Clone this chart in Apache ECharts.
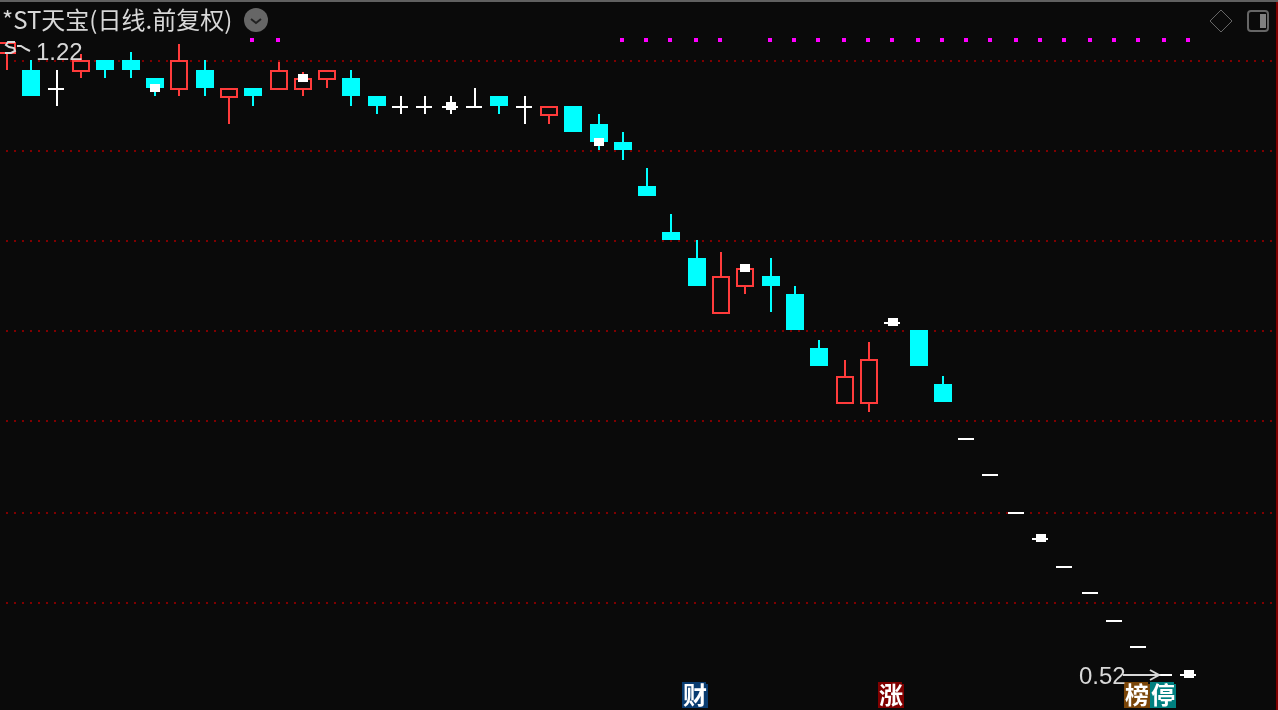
<!DOCTYPE html>
<html>
<head>
<meta charset="utf-8">
<title>*ST天宝 日线</title>
<script src="https://cdn.jsdelivr.net/npm/echarts@6/dist/echarts.min.js"></script>
<style>
  html, body { margin: 0; padding: 0; background: #0a0a0a; }
  #main { width: 1278px; height: 710px; }
</style>
</head>
<body>
<div id="main"></div>
<script>
// 49 trading days, oldest first
var days = ["D01","D02","D03","D04","D05","D06","D07","D08","D09","D10",
            "D11","D12","D13","D14","D15","D16","D17","D18","D19","D20",
            "D21","D22","D23","D24","D25","D26","D27","D28","D29","D30",
            "D31","D32","D33","D34","D35","D36","D37","D38","D39","D40",
            "D41","D42","D43","D44","D45","D46","D47","D48","D49"];

var opens = [1.2036,1.1778,1.1481,1.1747,1.1939,1.1939,1.1652,1.1465,1.1778,1.1342,
             1.1496,1.1465,1.1465,1.1620,1.1652,1.1372,1.1205,1.1205,1.1205,1.1205,
             1.1372,1.1205,1.1069,1.1220,1.0950,1.0687,1.0071,0.9463,0.9137,0.8471,
             0.8785,0.8917,0.8703,0.8091,0.7501,0.7501,0.8368,0.8289,0.7706,0.7154,
             0.6815,0.6474,0.6247,0.6019,0.5811,0.5595,0.5402,0.5201,0.5201];
var closes = [1.2233,1.1372,1.1481,1.1939,1.1778,1.1778,1.1496,1.1939,1.1496,1.1496,
              1.1372,1.1778,1.1652,1.1778,1.1372,1.1220,1.1205,1.1205,1.1205,1.1205,
              1.1220,1.1205,1.1220,1.0832,1.0687,1.0572,0.9935,0.9361,0.8797,0.8917,
              0.9014,0.8797,0.8289,0.7896,0.7790,0.7971,0.8368,0.7896,0.7521,0.7154,
              0.6815,0.6474,0.6247,0.6019,0.5811,0.5595,0.5402,0.5201,0.5201];
var lows = [1.1778,1.1372,1.1220,1.1652,1.1652,1.1652,1.1372,1.1372,1.1372,1.0950,
            1.1220,1.1465,1.1372,1.1496,1.1220,1.1099,1.1099,1.1099,1.1099,1.1205,
            1.1099,1.0950,1.0950,1.0832,1.0572,1.0430,0.9935,0.9361,0.8797,0.8471,
            0.8703,0.8494,0.8289,0.7896,0.7501,0.7420,0.8368,0.7896,0.7521,0.7154,
            0.6815,0.6474,0.6247,0.6019,0.5811,0.5595,0.5402,0.5201,0.5201];
var highs = [1.2233,1.1939,1.1778,1.2036,1.1939,1.2069,1.1652,1.2200,1.1939,1.1496,
             1.1496,1.1907,1.1747,1.1778,1.1778,1.1372,1.1372,1.1372,1.1372,1.1496,
             1.1372,1.1372,1.1220,1.1220,1.1099,1.0830,1.0318,0.9696,0.9361,0.9211,
             0.9014,0.9137,0.8797,0.8179,0.7960,0.8156,0.8368,0.8289,0.7790,0.7154,
             0.6815,0.6474,0.6247,0.6019,0.5811,0.5595,0.5402,0.5201,0.5201];

// white square every sixth day
var blockDays = [6, 12, 18, 24, 30, 36, 42, 48];
var blockPrices = [1.1496, 1.1652, 1.1220, 1.0687, 0.9014, 0.8379, 0.6259, 0.5208];

// magenta signal row along the top
var signalDays = [10,11,25,26,27,28,29,31,32,33,34,35,36,37,38,39,40,41,42,43,44,45,46,47,48];
var signalPrice = 1.2266;

var gridLevels = [1.1923, 1.0558, 0.9349, 0.8278, 0.7331, 0.6474, 0.5733];

var priceMin = 0.49597;
var priceMax = 1.29476;

var RED = '#ff3b3b';
var CYAN = '#00ffff';
var WHITE = '#ffffff';
var BG = '#0a0a0a';

// candle centres are always on an odd pixel in the original
function oddPx(x) {
  return 2 * Math.round((x - 1) / 2) + 1;
}

function box(x, y, w, h, color) {
  return { type: 'rect', shape: { x: x, y: y, width: w, height: h }, style: { fill: color } };
}

function renderCandle(params, api) {
  var i = api.value(0);
  var o = api.value(1), c = api.value(2), l = api.value(3), h = api.value(4);
  var cx = oddPx(api.coord([i, o])[0]);
  var yTop = Math.round(api.coord([i, Math.max(o, c)])[1]);
  var yBot = Math.round(api.coord([i, Math.min(o, c)])[1]);
  var yHigh = Math.round(api.coord([i, h])[1]);
  var yLow = Math.round(api.coord([i, l])[1]);
  var kids = [];
  if (o === c) {
    kids.push(box(cx - 1, yHigh, 2, yLow - yHigh, WHITE));
    kids.push(box(cx - 9, yTop - 1, 16, 2, WHITE));
  } else if (c > o) {
    kids.push(box(cx - 1, yHigh, 2, yLow - yHigh, RED));
    kids.push(box(cx - 9, yTop, 18, yBot - yTop, RED));
    kids.push(box(cx - 7, yTop + 2, 14, yBot - yTop - 4, BG));
  } else {
    kids.push(box(cx - 1, yHigh, 2, yLow - yHigh, CYAN));
    kids.push(box(cx - 9, yTop, 18, yBot - yTop, CYAN));
  }
  return { type: 'group', children: kids };
}

function renderGridLine(params, api) {
  var y = Math.round(api.coord([0, api.value(1)])[1]);
  return {
    type: 'line',
    shape: { x1: 6, y1: y, x2: 1276, y2: y },
    style: { stroke: '#800000', lineWidth: 2, lineDash: [2, 6] }
  };
}

function renderBlock(params, api) {
  var p = api.coord([api.value(0), api.value(1)]);
  return box(oddPx(p[0]) - 5, Math.round(p[1]) - 4, 10, 8, WHITE);
}

function renderSignal(params, api) {
  var p = api.coord([api.value(0), api.value(1)]);
  return box(oddPx(p[0]) - 3, Math.round(p[1]) - 2, 4, 4, '#ff00ff');
}

var candleData = days.map(function (d, i) {
  return [i, opens[i], closes[i], lows[i], highs[i]];
});
var blockData = blockDays.map(function (d, i) { return [d, blockPrices[i]]; });
var signalData = signalDays.map(function (d) { return [d, signalPrice]; });
var gridData = gridLevels.map(function (v) { return [0, v]; });

// corner tag with the small notch top right
function tag(x, color, text) {
  return {
    type: 'group',
    x: x,
    y: 682,
    z: 10,
    children: [
      {
        type: 'polygon',
        shape: { points: [[0, 0], [24, 0], [24, 2], [26, 2], [26, 26], [0, 26]] },
        style: { fill: color }
      },
      {
        type: 'text',
        x: 13,
        y: 13,
        style: {
          text: text,
          fill: '#ffffff',
          font: 'bold 24px "Noto Sans CJK SC"',
          align: 'center',
          verticalAlign: 'middle'
        }
      }
    ]
  };
}

var chart = echarts.init(document.getElementById('main'), null, { renderer: 'canvas' });

var option = {
  animation: false,
  backgroundColor: BG,
  grid: { left: -5.12, top: 0, width: 1206.38, height: 710, outerBoundsMode: 'none' },
  xAxis: { type: 'category', data: days, show: false },
  yAxis: { type: 'log', logBase: 10, min: priceMin, max: priceMax, show: false },
  series: [
    {
      type: 'custom', name: 'grid', silent: true, clip: false, z: 1,
      renderItem: renderGridLine, data: gridData, encode: { x: 0, y: 1 }
    },
    {
      type: 'custom', name: 'K', silent: true, clip: false, z: 2,
      renderItem: renderCandle, data: candleData, encode: { x: 0, y: [1, 2, 3, 4] }
    },
    {
      type: 'custom', name: 'signal', silent: true, clip: false, z: 3,
      renderItem: renderSignal, data: signalData, encode: { x: 0, y: 1 }
    },
    {
      type: 'custom', name: 'block', silent: true, clip: false, z: 4,
      renderItem: renderBlock, data: blockData, encode: { x: 0, y: 1 }
    }
  ],
  graphic: [
    // frame
    { type: 'rect', shape: { x: 0, y: 0, width: 1278, height: 2 }, style: { fill: '#606060' }, z: 10 },
    { type: 'rect', shape: { x: 1276, y: 2, width: 2, height: 708 }, style: { fill: '#800000' }, z: 10 },
    // title
    {
      type: 'text', x: 2, y: 20, z: 10,
      style: {
        text: '*ST天宝(日线.前复权)',
        fill: '#d8d8d8',
        font: '24px "Noto Sans CJK SC"',
        verticalAlign: 'middle'
      }
    },
    // dropdown button
    { type: 'circle', shape: { cx: 256, cy: 20, r: 12 }, style: { fill: '#666666' }, z: 10 },
    {
      type: 'polyline', z: 11,
      shape: { points: [[251, 19], [256, 23], [261, 19]] },
      style: { stroke: '#222222', lineWidth: 2, fill: null }
    },
    // right hand icons
    {
      type: 'polygon', z: 10,
      shape: { points: [[1221, 10], [1232, 21], [1221, 32], [1210, 21]] },
      style: { stroke: '#666666', lineWidth: 1, fill: null }
    },
    {
      type: 'rect', z: 10,
      shape: { x: 1248, y: 11, width: 20, height: 20, r: 3 },
      style: { stroke: '#666666', lineWidth: 2, fill: null }
    },
    { type: 'rect', z: 10, shape: { x: 1260, y: 14, width: 6, height: 14 }, style: { fill: '#808080' } },
    // highest price label, arrow runs to the left
    {
      type: 'text', x: 36, y: 41, z: 10,
      style: { text: '1.22', fill: '#d8d8d8', font: '24px "Liberation Sans"' }
    },
    {
      type: 'polyline', z: 10,
      shape: { points: [[15, 42], [8, 42], [6, 45], [9, 47], [14, 48], [15, 51], [11, 53], [5, 53]] },
      style: { stroke: '#d8d8d8', lineWidth: 2, fill: null }
    },
    {
      type: 'polyline', z: 10,
      shape: { points: [[17, 46], [21, 46], [26, 49], [30, 51]] },
      style: { stroke: '#d8d8d8', lineWidth: 2, fill: null }
    },
    // lowest price label
    {
      type: 'text', x: 1079, y: 665, z: 10,
      style: { text: '0.52', fill: '#d8d8d8', font: '24px "Liberation Sans"' }
    },
    { type: 'rect', z: 10, shape: { x: 1123, y: 674, width: 36, height: 2 }, style: { fill: '#d8d8d8' } },
    {
      type: 'polyline', z: 10,
      shape: { points: [[1150, 670], [1159, 675], [1150, 680]] },
      style: { stroke: '#d8d8d8', lineWidth: 2, fill: null }
    },
    tag(682, '#0a3c70', '财'),
    tag(878, '#800000', '涨'),
    tag(1124, '#7a4508', '榜'),
    tag(1150, '#008080', '停')
  ]
};

chart.setOption(option);
</script>
</body>
</html>
